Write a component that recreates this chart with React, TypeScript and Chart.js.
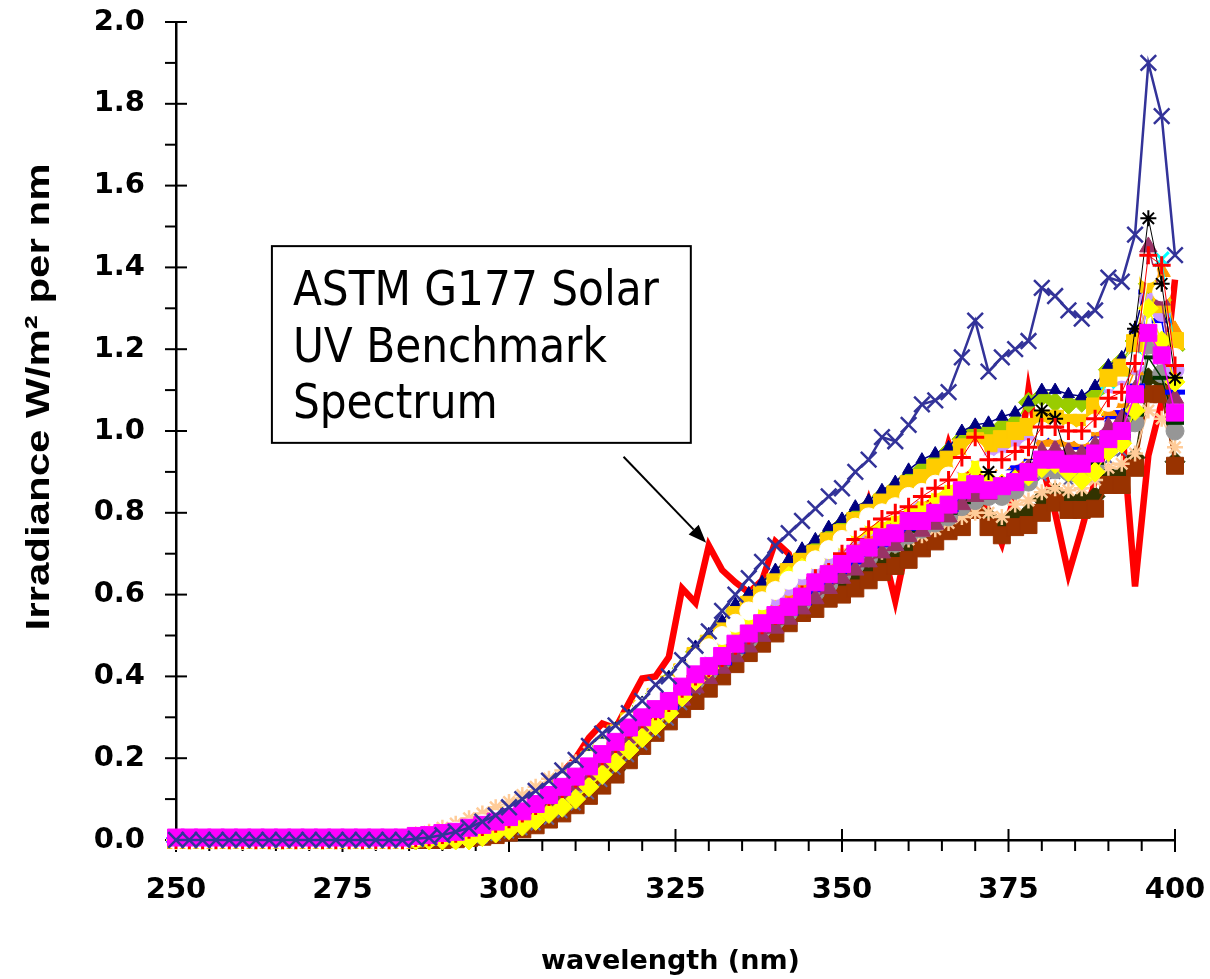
import React, { useEffect, useRef } from "react";
import { Chart, registerables } from "chart.js";

Chart.register(...registerables);

// ---------- data ----------
const WAVELENGTH_NM = [
  250, 252, 254, 256, 258, 260, 262, 264, 266, 268, 270, 272, 274, 276, 278, 280, 282, 284,
  286, 288, 290, 292, 294, 296, 298, 300, 302, 304, 306, 308, 310, 312, 314, 316, 318, 320,
  322, 324, 326, 328, 330, 332, 334, 336, 338, 340, 342, 344, 346, 348, 350, 352, 354, 356,
  358, 360, 362, 364, 366, 368, 370, 372, 374, 376, 378, 380, 382, 384, 386, 388, 390, 392,
  394, 396, 398, 400,
];

const X_MINOR_TICKS = [255, 260, 265, 270, 280, 285, 290, 295, 305, 310, 315, 320, 330, 335, 340, 345, 355, 360, 365, 370, 380, 385, 390, 395];
const Y_MINOR_TICKS = [0.1, 0.3, 0.5, 0.7, 0.9, 1.1, 1.3, 1.5, 1.7, 1.9];

const BLUE_X = [
  0, 0, 0, 0, 0, 0, 0, 0, 0, 0, 0, 0, 0, 0, 0, 0, 0, 0,
  0.003, 0.006, 0.012, 0.02, 0.03, 0.045, 0.06, 0.08,
  0.1, 0.12, 0.145, 0.17, 0.196, 0.23, 0.26, 0.28, 0.31, 0.34,
  0.38, 0.4, 0.44, 0.475, 0.51, 0.56, 0.6, 0.64, 0.68, 0.72,
  0.75, 0.78, 0.81, 0.84, 0.86, 0.9, 0.93, 0.985, 0.975, 1.015,
  1.065, 1.075, 1.095, 1.18, 1.27, 1.145, 1.18, 1.2, 1.22, 1.35,
  1.33, 1.295, 1.275, 1.295, 1.375, 1.365, 1.48, 1.9, 1.77, 1.43,
];

const MAGENTA_SQ = [
  0.006, 0.006, 0.006, 0.006, 0.006, 0.006, 0.006, 0.006, 0.006, 0.006, 0.006, 0.006, 0.006, 0.006, 0.006, 0.006, 0.006, 0.006,
  0.01, 0.012, 0.017, 0.02, 0.03, 0.037, 0.045, 0.056,
  0.07, 0.088, 0.11, 0.13, 0.155, 0.18, 0.21, 0.24, 0.275, 0.3,
  0.32, 0.34, 0.375, 0.405, 0.425, 0.45, 0.48, 0.505, 0.53, 0.55,
  0.57, 0.595, 0.63, 0.65, 0.675, 0.7, 0.715, 0.74, 0.75, 0.78,
  0.78, 0.8, 0.82, 0.855, 0.87, 0.855, 0.865, 0.875, 0.9, 0.93,
  0.93, 0.92, 0.92, 0.945, 0.98, 1.0, 1.09, 1.24, 1.185, 1.045,
];

const YELLOW_DIA = [
  0, 0, 0, 0, 0, 0, 0, 0, 0, 0, 0, 0, 0, 0, 0, 0, 0, 0,
  0, 0, 0, 0, 0, 0.008, 0.017, 0.025,
  0.034, 0.048, 0.065, 0.08, 0.1, 0.13, 0.16, 0.19, 0.22, 0.25,
  0.28, 0.31, 0.35, 0.39, 0.42, 0.46, 0.5, 0.54, 0.565, 0.61,
  0.645, 0.665, 0.685, 0.71, 0.73, 0.75, 0.765, 0.78, 0.79, 0.8,
  0.81, 0.84, 0.855, 0.88, 0.91, 0.88, 0.87, 0.88, 0.89, 0.91,
  0.92, 0.9, 0.88, 0.9, 0.95, 0.97, 1.05, 1.3, 1.22, 1.12,
];

const RED_PLUS = [
  0, 0, 0, 0, 0, 0, 0, 0, 0, 0, 0, 0, 0, 0, 0, 0, 0, 0,
  0.005, 0.007, 0.012, 0.015, 0.025, 0.032, 0.04, 0.051,
  0.065, 0.083, 0.105, 0.125, 0.15, 0.175, 0.205, 0.235, 0.27, 0.295,
  0.315, 0.335, 0.37, 0.4, 0.42, 0.445, 0.475, 0.5, 0.525, 0.548,
  0.57, 0.6, 0.64, 0.655, 0.7, 0.735, 0.76, 0.785, 0.8, 0.815,
  0.84, 0.86, 0.88, 0.935, 0.985, 0.93, 0.93, 0.95, 0.96, 1.01,
  1.01, 1.0, 1.0, 1.03, 1.08, 1.095, 1.165, 1.43, 1.405, 1.16,
];

const BLACK_STAR = [
  0, 0, 0, 0, 0, 0, 0, 0, 0, 0, 0, 0, 0, 0, 0, 0, 0, 0,
  0.01, 0.012, 0.017, 0.02, 0.03, 0.037, 0.045, 0.056,
  0.07, 0.088, 0.11, 0.13, 0.155, 0.18, 0.21, 0.24, 0.275, 0.3,
  0.32, 0.34, 0.375, 0.405, 0.425, 0.45, 0.48, 0.505, 0.53, 0.55,
  0.57, 0.595, 0.63, 0.65, 0.675, 0.7, 0.715, 0.74, 0.75, 0.78,
  0.78, 0.8, 0.82, 0.855, 0.87, 0.9, 0.87, 0.875, 0.9, 1.05,
  1.03, 0.92, 0.92, 0.945, 0.98, 1.0, 1.25, 1.52, 1.36, 1.13,
];

const CYAN_X = [
  0, 0, 0, 0, 0, 0, 0, 0, 0, 0, 0, 0, 0, 0, 0, 0, 0, 0,
  0.004, 0.008, 0.012, 0.018, 0.026, 0.035, 0.045, 0.058,
  0.074, 0.092, 0.115, 0.14, 0.165, 0.195, 0.225, 0.26, 0.29, 0.32,
  0.35, 0.38, 0.41, 0.45, 0.48, 0.51, 0.55, 0.575, 0.6, 0.63,
  0.655, 0.68, 0.7, 0.73, 0.75, 0.78, 0.8, 0.825, 0.845, 0.87,
  0.885, 0.91, 0.93, 0.96, 0.975, 0.97, 0.98, 1.0, 1.01, 1.03,
  1.03, 1.02, 1.02, 1.06, 1.12, 1.15, 1.2, 1.38, 1.42, 1.2,
];

const WHITE_CIRC = [
  0, 0, 0, 0, 0, 0, 0, 0, 0, 0, 0, 0, 0, 0, 0, 0, 0, 0,
  0.008, 0.012, 0.017, 0.022, 0.03, 0.04, 0.05, 0.062,
  0.077, 0.095, 0.117, 0.14, 0.165, 0.195, 0.225, 0.258, 0.29, 0.325,
  0.355, 0.38, 0.415, 0.445, 0.47, 0.5, 0.53, 0.56, 0.585, 0.61,
  0.635, 0.66, 0.685, 0.71, 0.735, 0.765, 0.79, 0.8, 0.815, 0.84,
  0.85, 0.87, 0.89, 0.92, 0.95, 0.92, 0.925, 0.94, 0.955, 1.0,
  1.0, 0.995, 0.99, 1.02, 1.07, 1.09, 1.17, 1.385, 1.34, 1.18,
];

const PURPLE_TRI = [
  0, 0, 0, 0, 0, 0, 0, 0, 0, 0, 0, 0, 0, 0, 0, 0, 0, 0,
  0.003, 0.005, 0.008, 0.012, 0.018, 0.025, 0.033, 0.043,
  0.055, 0.071, 0.09, 0.11, 0.134, 0.16, 0.188, 0.218, 0.25, 0.272,
  0.29, 0.31, 0.342, 0.372, 0.395, 0.42, 0.448, 0.472, 0.498, 0.518,
  0.54, 0.565, 0.59, 0.615, 0.64, 0.66, 0.68, 0.702, 0.72, 0.742,
  0.755, 0.772, 0.79, 0.82, 0.84, 0.845, 0.86, 0.885, 0.91, 0.95,
  0.955, 0.95, 0.945, 0.965, 1.01, 1.03, 1.1, 1.45, 1.32, 1.08,
];

const GOLD_SQ = [
  0, 0, 0, 0, 0, 0, 0, 0, 0, 0, 0, 0, 0, 0, 0, 0, 0, 0,
  0.004, 0.008, 0.012, 0.018, 0.026, 0.035, 0.045, 0.058,
  0.074, 0.092, 0.115, 0.14, 0.165, 0.195, 0.225, 0.26, 0.29, 0.32,
  0.35, 0.38, 0.41, 0.45, 0.48, 0.51, 0.55, 0.575, 0.6, 0.63,
  0.655, 0.68, 0.7, 0.73, 0.75, 0.78, 0.8, 0.825, 0.845, 0.87,
  0.885, 0.91, 0.93, 0.96, 0.975, 0.97, 0.98, 1.0, 1.01, 1.03,
  1.03, 1.02, 1.02, 1.06, 1.13, 1.155, 1.215, 1.36, 1.31, 1.22,
];

const NAVY_TRI = [
  0, 0, 0, 0, 0, 0, 0, 0, 0, 0, 0, 0, 0, 0, 0, 0, 0, 0,
  0.005, 0.009, 0.014, 0.02, 0.029, 0.039, 0.05, 0.063,
  0.08, 0.099, 0.122, 0.148, 0.175, 0.205, 0.236, 0.272, 0.303, 0.335,
  0.366, 0.398, 0.43, 0.472, 0.503, 0.535, 0.577, 0.603, 0.63, 0.66,
  0.686, 0.712, 0.735, 0.765, 0.785, 0.815, 0.83, 0.855, 0.875, 0.905,
  0.93, 0.945, 0.96, 1.0, 1.015, 1.02, 1.035, 1.045, 1.07, 1.1,
  1.1, 1.09, 1.085, 1.11, 1.16, 1.18, 1.25, 1.38, 1.3, 1.21,
];

const YELLOWGREEN_DIA = [
  0, 0, 0, 0, 0, 0, 0, 0, 0, 0, 0, 0, 0, 0, 0, 0, 0, 0,
  0.004, 0.008, 0.013, 0.019, 0.027, 0.037, 0.048, 0.061,
  0.077, 0.096, 0.118, 0.143, 0.17, 0.2, 0.23, 0.265, 0.296, 0.328,
  0.358, 0.39, 0.42, 0.46, 0.49, 0.522, 0.56, 0.588, 0.612, 0.64,
  0.668, 0.695, 0.715, 0.745, 0.77, 0.795, 0.815, 0.84, 0.86, 0.885,
  0.905, 0.925, 0.95, 0.98, 1.0, 1.0, 1.01, 1.02, 1.07, 1.085,
  1.07, 1.065, 1.07, 1.09, 1.15, 1.17, 1.22, 1.36, 1.32, 1.2,
];

const LAVENDER_CIRC = [
  0, 0, 0, 0, 0, 0, 0, 0, 0, 0, 0, 0, 0, 0, 0, 0, 0, 0,
  0.006, 0.01, 0.014, 0.019, 0.027, 0.035, 0.045, 0.056,
  0.07, 0.087, 0.108, 0.13, 0.155, 0.183, 0.212, 0.243, 0.275, 0.305,
  0.335, 0.362, 0.395, 0.425, 0.452, 0.482, 0.515, 0.543, 0.568, 0.595,
  0.62, 0.645, 0.668, 0.695, 0.718, 0.745, 0.765, 0.79, 0.81, 0.835,
  0.85, 0.875, 0.895, 0.925, 0.94, 0.945, 0.955, 0.97, 0.985, 1.0,
  1.0, 0.995, 0.995, 1.02, 1.08, 1.1, 1.16, 1.32, 1.29, 1.15,
];

const ORANGE_TRI = [
  0, 0, 0, 0, 0, 0, 0, 0, 0, 0, 0, 0, 0, 0, 0, 0, 0, 0,
  0.008, 0.012, 0.016, 0.02, 0.026, 0.034, 0.044, 0.055,
  0.069, 0.086, 0.106, 0.128, 0.152, 0.18, 0.21, 0.24, 0.272, 0.302,
  0.33, 0.356, 0.388, 0.418, 0.444, 0.472, 0.503, 0.53, 0.556, 0.58,
  0.605, 0.63, 0.655, 0.68, 0.7, 0.725, 0.745, 0.77, 0.785, 0.805,
  0.825, 0.845, 0.865, 0.895, 0.915, 0.915, 0.92, 0.935, 0.945, 0.975,
  0.98, 0.975, 0.975, 1.0, 1.05, 1.07, 1.15, 1.34, 1.39, 1.245,
];

const BLUE_DASH = [
  0, 0, 0, 0, 0, 0, 0, 0, 0, 0, 0, 0, 0, 0, 0, 0, 0, 0,
  0.006, 0.009, 0.013, 0.016, 0.024, 0.031, 0.038, 0.048,
  0.06, 0.077, 0.097, 0.117, 0.142, 0.166, 0.195, 0.224, 0.257, 0.283,
  0.305, 0.325, 0.358, 0.388, 0.41, 0.433, 0.462, 0.49, 0.515, 0.535,
  0.555, 0.58, 0.612, 0.632, 0.655, 0.68, 0.7, 0.722, 0.738, 0.762,
  0.77, 0.79, 0.808, 0.84, 0.86, 0.86, 0.875, 0.91, 0.935, 0.98,
  0.98, 0.97, 0.96, 0.99, 1.035, 1.045, 1.11, 1.34, 1.27, 1.095,
];

const DARKGREEN_DASH = [
  0, 0, 0, 0, 0, 0, 0, 0, 0, 0, 0, 0, 0, 0, 0, 0, 0, 0,
  0.003, 0.005, 0.008, 0.012, 0.017, 0.024, 0.033, 0.043,
  0.056, 0.072, 0.092, 0.113, 0.137, 0.163, 0.192, 0.221, 0.252, 0.282,
  0.308, 0.335, 0.365, 0.395, 0.42, 0.446, 0.474, 0.498, 0.523, 0.545,
  0.566, 0.59, 0.615, 0.636, 0.66, 0.683, 0.7, 0.722, 0.736, 0.756,
  0.77, 0.786, 0.8, 0.826, 0.842, 0.85, 0.852, 0.866, 0.888, 0.918,
  0.918, 0.912, 0.912, 0.922, 0.972, 0.988, 1.04, 1.18, 1.13, 1.02,
];

const GREY_CIRC = [
  0, 0, 0, 0, 0, 0, 0, 0, 0, 0, 0, 0, 0, 0, 0, 0, 0, 0,
  0.002, 0.004, 0.007, 0.01, 0.015, 0.022, 0.03, 0.04,
  0.052, 0.068, 0.088, 0.108, 0.132, 0.158, 0.186, 0.215, 0.245, 0.275,
  0.302, 0.328, 0.358, 0.388, 0.412, 0.438, 0.465, 0.49, 0.515, 0.535,
  0.556, 0.58, 0.605, 0.625, 0.65, 0.672, 0.69, 0.712, 0.725, 0.745,
  0.76, 0.775, 0.79, 0.815, 0.83, 0.84, 0.84, 0.855, 0.875, 0.905,
  0.905, 0.9, 0.9, 0.91, 0.96, 0.975, 1.02, 1.21, 1.14, 1.0,
];

const PEACH_STAR = [
  0, 0, 0, 0, 0, 0, 0, 0, 0, 0, 0, 0, 0, 0, 0, 0.003, 0.005, 0.008,
  0.012, 0.02, 0.03, 0.04, 0.053, 0.065, 0.08, 0.093,
  0.11, 0.13, 0.15, 0.17, 0.19, 0.215, 0.24, 0.268, 0.295, 0.32,
  0.345, 0.368, 0.395, 0.42, 0.44, 0.465, 0.49, 0.515, 0.535, 0.555,
  0.575, 0.595, 0.615, 0.635, 0.655, 0.67, 0.69, 0.705, 0.72, 0.735,
  0.745, 0.76, 0.775, 0.79, 0.8, 0.8, 0.79, 0.82, 0.83, 0.85,
  0.86, 0.855, 0.86, 0.88, 0.91, 0.92, 0.945, 1.05, 1.03, 0.96,
];

const SLATE_X = [
  0, 0, 0, 0, 0, 0, 0, 0, 0, 0, 0, 0, 0, 0, 0, 0, 0, 0,
  0, 0, 0, 0, 0, 0.004, 0.01, 0.016,
  0.024, 0.036, 0.05, 0.066, 0.085, 0.112, 0.142, 0.172, 0.203, 0.232,
  0.262, 0.292, 0.33, 0.368, 0.398, 0.438, 0.476, 0.512, 0.548, 0.57,
  0.605, 0.625, 0.648, 0.672, 0.692, 0.712, 0.728, 0.742, 0.755, 0.77,
  0.782, 0.805, 0.82, 0.845, 0.87, 0.85, 0.845, 0.855, 0.87, 0.89,
  0.895, 0.88, 0.87, 0.885, 0.93, 0.95, 1.02, 1.25, 1.18, 1.08,
];

const BROWN_SQ = [
  0, 0, 0, 0, 0, 0, 0, 0, 0, 0, 0, 0, 0, 0, 0, 0, 0, 0,
  0, 0, 0, 0.002, 0.005, 0.008, 0.012, 0.018,
  0.026, 0.036, 0.05, 0.065, 0.085, 0.108, 0.133, 0.16, 0.195, 0.23,
  0.262, 0.29, 0.32, 0.34, 0.37, 0.4, 0.43, 0.457, 0.48, 0.505,
  0.53, 0.555, 0.565, 0.59, 0.6, 0.615, 0.635, 0.655, 0.67, 0.685,
  0.713, 0.73, 0.755, 0.765, 0.807, 0.765, 0.745, 0.765, 0.77, 0.8,
  0.825, 0.807, 0.807, 0.81, 0.868, 0.868, 0.91, 1.09, 1.09, 0.915,
];

const DARKOLIVE_DIA = [
  0, 0, 0, 0, 0, 0, 0, 0, 0, 0, 0, 0, 0, 0, 0, 0, 0, 0,
  0, 0, 0, 0.003, 0.006, 0.01, 0.015, 0.021,
  0.03, 0.041, 0.056, 0.072, 0.093, 0.117, 0.143, 0.172, 0.207, 0.243,
  0.276, 0.305, 0.335, 0.357, 0.388, 0.419, 0.45, 0.478, 0.502, 0.528,
  0.553, 0.578, 0.59, 0.615, 0.628, 0.645, 0.665, 0.68, 0.7, 0.715,
  0.738, 0.758, 0.782, 0.795, 0.835, 0.79, 0.775, 0.792, 0.8, 0.835,
  0.85, 0.83, 0.835, 0.84, 0.895, 0.895, 0.935, 1.13, 1.12, 0.925,
];

const G177_SOLAR = [
  0, 0, 0, 0, 0, 0, 0, 0, 0, 0, 0, 0, 0, 0, 0, 0, 0, 0,
  0.008, 0.012, 0.018, 0.024, 0.032, 0.042, 0.052, 0.065,
  0.08, 0.1, 0.13, 0.165, 0.2, 0.25, 0.285, 0.273, 0.335, 0.395,
  0.4, 0.447, 0.615, 0.58, 0.72, 0.66, 0.63, 0.605, 0.635, 0.73,
  0.7, 0.6, 0.63, 0.66, 0.7, 0.73, 0.83, 0.72, 0.585, 0.74,
  0.8, 0.85, 0.97, 0.88, 0.92, 0.8, 0.725, 0.85, 1.1, 0.92,
  0.8, 0.65, 0.76, 0.88, 0.98, 1.02, 0.62, 0.94, 1.07, 1.37,
];

// annotation, in data units (nm, W/m2/nm)
const NOTE_LINES = ["ASTM G177 Solar", "UV Benchmark", "Spectrum"];
const NOTE_BOX = { x0: 264.4, y0: 1.452, x1: 327.3, y1: 0.971 };
const NOTE_ARROW = { fromX: 317.2, fromY: 0.937, toX: 329.6, toY: 0.727 };

// ---------- styles (first entry is drawn on top) ----------
type S = { name: string; values: number[]; color: string; shape: any; r: number; pw: number; lw: number };
const SERIES: S[] = [
  { name: "blueX", values: BLUE_X, color: "#333399", shape: "crossRot", r: 11, pw: 2.5, lw: 2.5 },
  { name: "magenta", values: MAGENTA_SQ, color: "#FF00FF", shape: "rect", r: 12, pw: 1, lw: 1.5 },
  { name: "redPlus", values: RED_PLUS, color: "#FF0000", shape: "cross", r: 9, pw: 3, lw: 1 },
  { name: "black", values: BLACK_STAR, color: "#000000", shape: "star", r: 8, pw: 2, lw: 1 },
  { name: "white", values: WHITE_CIRC, color: "#FFFFFF", shape: "circle", r: 9, pw: 1, lw: 1 },
  { name: "yellow", values: YELLOW_DIA, color: "#FFFF00", shape: "rectRot", r: 10, pw: 1, lw: 1.5 },
  { name: "purple", values: PURPLE_TRI, color: "#993366", shape: "triangle", r: 10, pw: 1, lw: 1.5 },
  { name: "gold", values: GOLD_SQ, color: "#FFCC00", shape: "rect", r: 12, pw: 1, lw: 1.5 },
  { name: "cyan", values: CYAN_X, color: "#00FFFF", shape: "crossRot", r: 10, pw: 3, lw: 1 },
  { name: "navy", values: NAVY_TRI, color: "#000080", shape: "triangle", r: 7, pw: 1, lw: 1.5 },
  { name: "yellowgreen", values: YELLOWGREEN_DIA, color: "#99CC00", shape: "rectRot", r: 10, pw: 1, lw: 1.5 },
  { name: "lavender", values: LAVENDER_CIRC, color: "#CC99FF", shape: "circle", r: 9, pw: 1, lw: 1.5 },
  { name: "orange", values: ORANGE_TRI, color: "#FF9900", shape: "triangle", r: 10, pw: 1, lw: 1.5 },
  { name: "blueDash", values: BLUE_DASH, color: "#0000FF", shape: "line", r: 10, pw: 5, lw: 1.5 },
  { name: "darkGreen", values: DARKGREEN_DASH, color: "#003300", shape: "line", r: 9, pw: 4, lw: 1.5 },
  { name: "grey", values: GREY_CIRC, color: "#969696", shape: "circle", r: 9, pw: 1, lw: 1.5 },
  { name: "peach", values: PEACH_STAR, color: "#FFCC99", shape: "star", r: 8, pw: 2.5, lw: 1.5 },
  { name: "slate", values: SLATE_X, color: "#666699", shape: "crossRot", r: 7, pw: 2, lw: 1 },
  { name: "brown", values: BROWN_SQ, color: "#993300", shape: "rect", r: 12, pw: 1, lw: 2 },
  { name: "darkOlive", values: DARKOLIVE_DIA, color: "#333300", shape: "rectRot", r: 10, pw: 1, lw: 1.5 },
  { name: "G177", values: G177_SOLAR, color: "#FF0000", shape: "circle", r: 0, pw: 0, lw: 6.5 },
];

const TICK_FONT = { family: '"DejaVu Sans", Verdana, sans-serif', size: 29, weight: "bold" as const, lineHeight: 1.2 };

const decorPlugin = {
  id: "decor",
  beforeDatasetsDraw(chart: any) {
    const { ctx, chartArea, scales } = chart;
    const x = scales.x;
    const y = scales.y;
    ctx.save();
    ctx.strokeStyle = "#000";
    ctx.lineWidth = 2;
    const seg = (a: number, b: number, c: number, d: number) => {
      ctx.beginPath();
      ctx.moveTo(a, b);
      ctx.lineTo(c, d);
      ctx.stroke();
    };
    for (const v of Y_MINOR_TICKS) {
      const py = y.getPixelForValue(v);
      seg(chartArea.left - 11, py, chartArea.left, py);
    }
    for (const t of y.ticks) {
      const py = y.getPixelForValue(t.value);
      seg(chartArea.left - 11, py, chartArea.left + 11, py);
    }
    for (const v of X_MINOR_TICKS) {
      const px = x.getPixelForValue(v);
      seg(px, chartArea.bottom, px, chartArea.bottom + 11);
    }
    for (const t of x.ticks) {
      const px = x.getPixelForValue(t.value);
      seg(px, chartArea.bottom - 11, px, chartArea.bottom + 12);
    }
    ctx.restore();
  },
  afterDraw(chart: any) {
    const { ctx, chartArea, scales } = chart;
    const x = scales.x;
    const y = scales.y;
    ctx.save();
    ctx.fillStyle = "#000";

    // y axis title
    const yt = "Irradiance W/m\u00B2 per nm";
    ctx.font = 'bold 34px "Liberation Sans", Arial, sans-serif';
    const w = ctx.measureText(yt).width;
    ctx.save();
    ctx.translate(49, chartArea.top + 375);
    ctx.rotate(-Math.PI / 2);
    ctx.scale(467 / w, 1);
    ctx.textAlign = "center";
    ctx.textBaseline = "alphabetic";
    ctx.fillText(yt, 0, 0);
    ctx.restore();

    // x axis title
    ctx.font = 'bold 27px "DejaVu Sans", Verdana, sans-serif';
    ctx.textAlign = "center";
    ctx.textBaseline = "alphabetic";
    ctx.fillText("wavelength (nm)", (chartArea.left + chartArea.right) / 2 - 5, chartArea.bottom + 129);

    // annotation box
    const bx0 = x.getPixelForValue(NOTE_BOX.x0);
    const bx1 = x.getPixelForValue(NOTE_BOX.x1);
    const by0 = y.getPixelForValue(NOTE_BOX.y0);
    const by1 = y.getPixelForValue(NOTE_BOX.y1);
    ctx.fillStyle = "#fff";
    ctx.fillRect(bx0, by0, bx1 - bx0, by1 - by0);
    ctx.strokeStyle = "#000";
    ctx.lineWidth = 2;
    ctx.strokeRect(bx0, by0, bx1 - bx0, by1 - by0);
    ctx.fillStyle = "#000";
    ctx.font = '48px "DejaVu Sans", Verdana, sans-serif';
    ctx.textAlign = "left";
    const sx = 366 / ctx.measureText(NOTE_LINES[0]).width;
    NOTE_LINES.forEach((t, i) => {
      ctx.save();
      ctx.translate(bx0 + 21, by0 + 59 + i * 56.5);
      ctx.scale(sx, 1);
      ctx.fillText(t, 0, 0);
      ctx.restore();
    });

    // arrow
    const ax0 = x.getPixelForValue(NOTE_ARROW.fromX);
    const ay0 = y.getPixelForValue(NOTE_ARROW.fromY);
    const ax1 = x.getPixelForValue(NOTE_ARROW.toX);
    const ay1 = y.getPixelForValue(NOTE_ARROW.toY);
    const ang = Math.atan2(ay1 - ay0, ax1 - ax0);
    const hl = 18;
    const hw = 7;
    const bxp = ax1 - hl * Math.cos(ang);
    const byp = ay1 - hl * Math.sin(ang);
    ctx.lineWidth = 2;
    ctx.beginPath();
    ctx.moveTo(ax0, ay0);
    ctx.lineTo(bxp, byp);
    ctx.stroke();
    ctx.beginPath();
    ctx.moveTo(ax1, ay1);
    ctx.lineTo(bxp + hw * Math.sin(ang), byp - hw * Math.cos(ang));
    ctx.lineTo(bxp - hw * Math.sin(ang), byp + hw * Math.cos(ang));
    ctx.closePath();
    ctx.fill();
    ctx.restore();
  },
};

export default function App() {
  const ref = useRef<HTMLCanvasElement>(null);
  useEffect(() => {
    const canvas = ref.current;
    if (!canvas) return;
    const datasets = SERIES.map((s) => ({
      label: s.name,
      data: WAVELENGTH_NM.map((nm, i) => ({ x: nm, y: s.values[i] })),
      borderColor: s.color,
      borderWidth: s.lw,
      backgroundColor: s.color,
      pointStyle: s.shape,
      pointRadius: s.r,
      pointBackgroundColor: s.color,
      pointBorderColor: s.color,
      pointBorderWidth: s.pw,
      pointHoverRadius: s.r,
      tension: 0,
      fill: false,
      clip: false,
    }));
    const chart = new Chart(canvas, {
      type: "line",
      data: { datasets },
      plugins: [decorPlugin],
      options: {
        animation: false,
        responsive: false,
        maintainAspectRatio: false,
        devicePixelRatio: 1,
        events: [],
        layout: { padding: { left: 0, top: 22, right: 35, bottom: 0 } },
        plugins: { legend: { display: false }, tooltip: { enabled: false } },
        scales: {
          x: {
            type: "linear",
            min: 250,
            max: 400,
            afterFit: (s: any) => {
              s.height = 139;
              s.paddingLeft = 0;
              s.paddingRight = 0;
              s.paddingTop = 0;
              s.paddingBottom = 0;
            },
            ticks: {
              stepSize: 25,
              padding: 33,
              autoSkip: false,
              maxRotation: 0,
              color: "#000",
              font: TICK_FONT,
              callback: (v: any) => String(v),
            },
            grid: { display: false, drawTicks: false },
            border: { display: true, color: "#000", width: 2.5 },
          },
          y: {
            type: "linear",
            min: 0,
            max: 2,
            afterFit: (s: any) => {
              s.width = 176;
              s.paddingLeft = 0;
              s.paddingRight = 0;
              s.paddingTop = 0;
              s.paddingBottom = 0;
            },
            ticks: {
              stepSize: 0.2,
              padding: 31,
              color: "#000",
              font: TICK_FONT,
              callback: (v: any) => Number(v).toFixed(1),
            },
            grid: { display: false, drawTicks: false },
            border: { display: true, color: "#000", width: 2.5 },
          },
        },
      },
    } as any);
    return () => chart.destroy();
  }, []);
  return (
    <div style={{ position: "absolute", left: 0, top: 0, width: 1210, height: 979, background: "#fff" }}>
      <canvas ref={ref} width={1210} height={979} style={{ display: "block", width: 1210, height: 979 }} />
    </div>
  );
}
